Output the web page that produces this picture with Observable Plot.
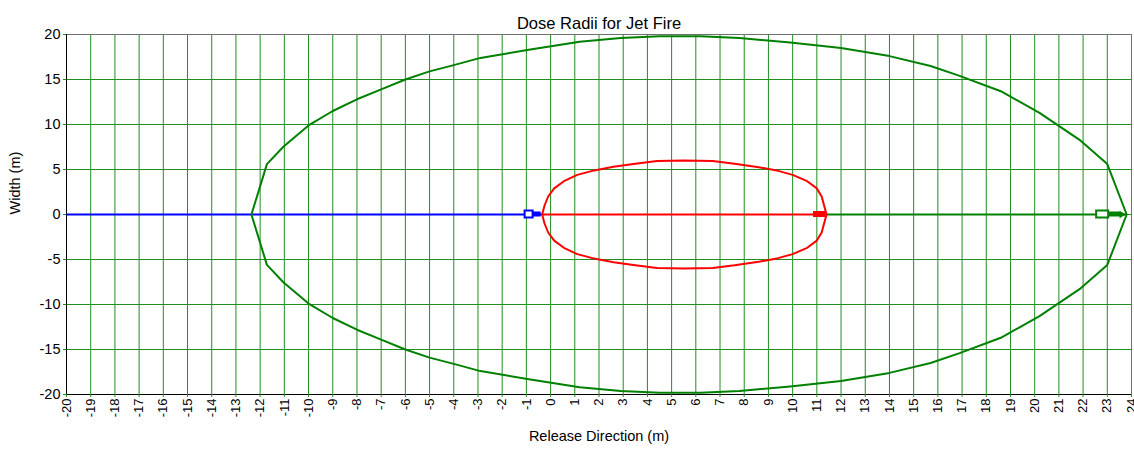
<!DOCTYPE html>
<html>
<head>
<meta charset="utf-8">
<script src="https://cdn.jsdelivr.net/npm/d3@7"></script>
<script src="https://cdn.jsdelivr.net/npm/@observablehq/plot@0.6"></script>
<style>
  html, body { margin: 0; padding: 0; background: #fff; }
</style>
</head>
<body>
<div id="chart"></div>
<script>
// ---- data ----
const titleText = "Dose Radii for Jet Fire";
const xLabel = "Release Direction (m)";
const yLabel = "Width (m)";

const xTicks = d3.range(-20, 25, 1);
const yTicks = [-20, -15, -10, -5, 0, 5, 10, 15, 20];

// outer (green) dose contour
const greenX = [-12.36, -11.72, -11.03, -10.0, -9.0, -8.0, -7.0, -6.0, -5.0, -4.0, -2.9, -0.9, 1.2, 2.9, 4.5, 6.2, 7.8, 9.9, 12.0, 14.0, 15.7, 16.9, 18.6, 20.2, 21.9, 23.0, 23.8,
                23.0, 21.9, 20.2, 18.6, 16.9, 15.7, 14.0, 12.0, 9.9, 7.8, 6.2, 4.5, 2.9, 1.2, -0.9, -2.9, -4.0, -5.0, -6.0, -7.0, -8.0, -9.0, -10.0, -11.03, -11.72, -12.36];
const greenY = [0, 5.6, 7.55, 9.9, 11.5, 12.8, 13.9, 15.0, 15.9, 16.6, 17.4, 18.3, 19.2, 19.6, 19.8, 19.8, 19.6, 19.1, 18.5, 17.6, 16.5, 15.4, 13.7, 11.3, 8.2, 5.6, 0,
                -5.6, -8.2, -11.3, -13.7, -15.4, -16.5, -17.6, -18.5, -19.1, -19.6, -19.8, -19.8, -19.6, -19.2, -18.3, -17.4, -16.6, -15.9, -15.0, -13.9, -12.8, -11.5, -9.9, -7.55, -5.6, 0];

// inner (red) dose contour
const redX = [-0.35, -0.25, -0.1, 0.15, 0.55, 1.1, 1.8, 2.6, 3.5, 4.4, 5.5, 6.7, 7.6, 8.6, 9.4, 10.0, 10.6, 11.0, 11.2, 11.3, 11.4,
              11.3, 11.2, 11.0, 10.6, 10.0, 9.4, 8.6, 7.6, 6.7, 5.5, 4.4, 3.5, 2.6, 1.8, 1.1, 0.55, 0.15, -0.1, -0.25, -0.35];
const redY = [0, 1.0, 2.0, 2.9, 3.7, 4.4, 4.9, 5.3, 5.65, 5.95, 6.0, 5.95, 5.65, 5.25, 4.85, 4.4, 3.7, 2.9, 2.0, 1.0, 0,
              -1.0, -2.0, -2.9, -3.7, -4.4, -4.85, -5.25, -5.65, -5.95, -6.0, -5.95, -5.65, -5.3, -4.9, -4.4, -3.7, -2.9, -2.0, -1.0, 0];

// release-direction segments along y = 0
const segStart = [-20, -0.35, 11.4];
const segEnd = [-0.35, 11.4, 23.8];
const segColor = ["#0000ff", "#ff0000", "#008000"];

// ---- build tables ----
const green = greenX.map((x, i) => ({x, y: greenY[i]}));
const red = redX.map((x, i) => ({x, y: redY[i]}));
const segs = segStart.map((s, i) => ({x1: s, x2: segEnd[i], color: segColor[i]}));

const gridColor = "#1f8f1f";

const chart = Plot.plot({
  width: 1134,
  height: 456,
  marginLeft: 66,
  marginRight: 3,
  marginTop: 34,
  marginBottom: 62,
  style: {fontFamily: "'Liberation Sans', Arial, sans-serif", background: "#fff", color: "#000"},
  x: {domain: [-20, 24]},
  y: {domain: [-20, 20]},
  marks: [
    Plot.gridX(xTicks, {stroke: gridColor, strokeOpacity: 1}),
    Plot.gridY(yTicks, {stroke: gridColor, strokeOpacity: 1}),
    Plot.frame({stroke: "#707070"}),
    Plot.ruleX([-20], {stroke: "#000"}),
    Plot.ruleY([-20], {stroke: "#000"}),
    Plot.axisX(xTicks, {tickRotate: -90, tickSize: 3, tickPadding: 1, stroke: gridColor, fill: "#000", fontSize: 13, tickFormat: d => String(d), label: null}),
    Plot.axisY(yTicks, {tickSize: 3, tickPadding: 3, stroke: gridColor, fill: "#000", fontSize: 14.5, tickFormat: d => String(d), label: null}),
    // release direction lines
    Plot.link(segs, {x1: "x1", x2: "x2", y1: 0, y2: 0, stroke: "color", strokeWidth: 2}),
    // contours
    Plot.line(green, {x: "x", y: "y", stroke: "#008000", strokeWidth: 2}),
    Plot.line(red, {x: "x", y: "y", stroke: "#ff0000", strokeWidth: 2}),
    // end markers (box + arrow)
    Plot.rect([segs[0]], {x1: "x2", x2: "x2", y1: 0, y2: 0, insetLeft: -17, insetRight: 9, insetTop: -3.5, insetBottom: -3.5, fill: "#fff", stroke: "#0000ff", strokeWidth: 2}),
    Plot.rect([segs[0]], {x1: "x2", x2: "x2", y1: 0, y2: 0, insetLeft: -9, insetRight: 1, insetTop: -2.5, insetBottom: -2.5, fill: "#0000ff"}),
    Plot.rect([segs[1]], {x1: "x2", x2: "x2", y1: 0, y2: 0, insetLeft: -13, insetRight: 1, insetTop: -3, insetBottom: -3, fill: "#ff0000"}),
    Plot.rect([segs[2]], {x1: "x2", x2: "x2", y1: 0, y2: 0, insetLeft: -30, insetRight: 18, insetTop: -3.5, insetBottom: -3.5, fill: "#fff", stroke: "#008000", strokeWidth: 2}),
    Plot.rect([segs[2]], {x1: "x2", x2: "x2", y1: 0, y2: 0, insetLeft: -18, insetRight: 6, insetTop: -2.5, insetBottom: -2.5, fill: "#008000"}),
    Plot.dot([segs[2]], {x: "x2", y: 0, symbol: "triangle2", rotate: 90, r: 3.5, dx: -5, fill: "#008000"}),
    // texts
    Plot.text([titleText], {frameAnchor: "top", dy: -17, text: d => d, fontSize: 16.5, fill: "#000"}),
    Plot.text([xLabel], {frameAnchor: "bottom", dy: 46, text: d => d, fontSize: 14.5, fill: "#000"}),
    Plot.text([yLabel], {frameAnchor: "left", dx: -51, rotate: -90, text: d => d, fontSize: 14.5, fill: "#000"})
  ]
});
document.getElementById("chart").appendChild(chart);
</script>
</body>
</html>
